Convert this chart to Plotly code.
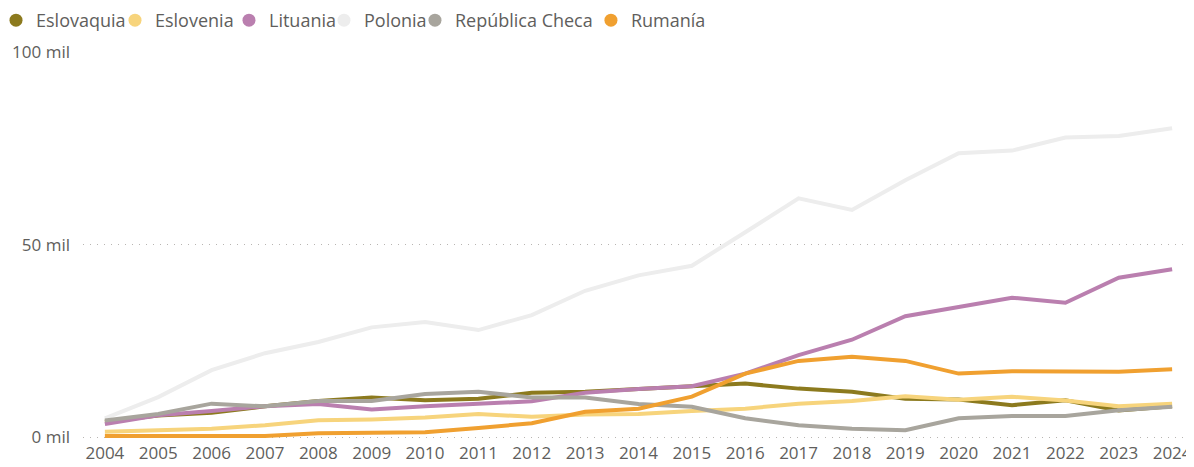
import plotly.graph_objects as go

years = list(range(2004, 2025))
series_names = ["Eslovaquia", "Eslovenia", "Lituania", "Polonia", "República Checa", "Rumanía"]
colors = ["#8C7A1E", "#F7D47C", "#BA7FAF", "#EDEDED", "#A8A59D", "#F0A030"]

eslovaquia = [4000, 5600, 6300, 8000, 9400, 10300, 9600, 10000, 11500, 11800, 12500, 13100, 13900, 12600, 11800, 10000, 9800, 8300, 9600, 6900, 8000]
eslovenia = [1400, 1800, 2200, 3100, 4400, 4600, 5100, 6000, 5300, 5900, 6000, 6800, 7400, 8700, 9400, 10600, 9700, 10500, 9500, 8000, 8700]
lituania = [3400, 5700, 6800, 8000, 8600, 7200, 8000, 8700, 9300, 11500, 12500, 13200, 16500, 21300, 25300, 31400, 33900, 36200, 34900, 41400, 43600]
polonia = [4900, 10400, 17400, 21800, 24700, 28500, 29900, 27800, 31700, 38000, 42000, 44500, 53200, 62000, 59000, 66700, 73700, 74400, 77800, 78200, 80200]
rep_checa = [4300, 6000, 8700, 8000, 9400, 9400, 11200, 11800, 10300, 10300, 8600, 7900, 4900, 3100, 2200, 1800, 4900, 5500, 5500, 7000, 7900]
rumania = [300, 300, 300, 300, 1000, 1200, 1300, 2400, 3600, 6600, 7400, 10500, 16500, 19800, 20900, 19800, 16500, 17100, 17000, 17000, 17600]

y_tickvals = [0, 50000, 100000]
y_ticktext = ["0 mil", "50 mil", "100 mil"]

all_series = [eslovaquia, eslovenia, lituania, polonia, rep_checa, rumania]

# legend entry positions (fraction of plot width, paper coordinates)
legend_x = [-0.0783, 0.0288, 0.1314, 0.2169, 0.2988, 0.4572]

font_family = "Segoe UI, Open Sans, Noto Sans, sans-serif"
text_color = "#605E5C"

fig = go.Figure()
for name, vals, col in zip(series_names, all_series, colors):
    fig.add_trace(go.Scatter(
        x=years, y=vals, mode="lines", name=name,
        line=dict(color=col, width=4), showlegend=False,
        hoverinfo="x+y+name",
    ))

legend_layouts = {}
for i, (name, col, lx) in enumerate(zip(series_names, colors, legend_x)):
    lname = "legend" if i == 0 else f"legend{i + 1}"
    fig.add_trace(go.Scatter(
        x=[None], y=[None], mode="markers", name=name,
        marker=dict(color=col, size=13, symbol="circle"),
        showlegend=True, legend=lname,
    ))
    legend_layouts[lname] = dict(
        orientation="h", x=lx, xanchor="left", y=1.1285, yanchor="top",
        xref="paper", yref="paper",
        font=dict(family=font_family, size=18, color=text_color),
        itemwidth=30, bgcolor="rgba(0,0,0,0)", borderwidth=0,
    )

fig.update_layout(
    width=1186, height=459,
    margin=dict(l=75, r=0, t=44, b=26, autoexpand=False),
    paper_bgcolor="white", plot_bgcolor="white",
    font=dict(family=font_family, size=17, color=text_color),
    xaxis=dict(
        range=[2003.59, 2024.41], tickmode="array", tickvals=years,
        ticktext=[str(y) for y in years], showgrid=False, zeroline=False,
        showline=False, ticks="", tickfont=dict(size=17, color=text_color),
    ),
    yaxis=dict(
        range=[-1000, 100000], tickmode="array", tickvals=y_tickvals,
        ticktext=y_ticktext, showgrid=True, gridcolor="#B8B5B2",
        griddash="1px,6px", gridwidth=1, zeroline=False, showline=False,
        ticks="", ticklabelstandoff=12, tickfont=dict(size=17, color=text_color),
    ),
    showlegend=True,
    **legend_layouts,
)

fig.write_html("out.html")
